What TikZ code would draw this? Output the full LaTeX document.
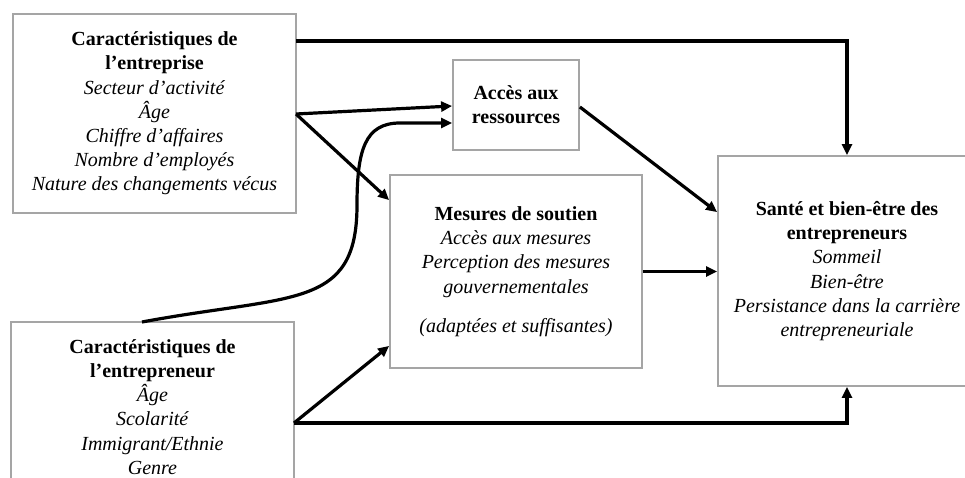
\documentclass[tikz,border=0pt]{standalone}
\usepackage{fontspec}
\setmainfont{Liberation Serif}
\usetikzlibrary{arrows.meta}
\definecolor{boxgray}{RGB}{165,165,165}
\tikzset{
  box/.style={draw=boxgray, line width=1.8pt, rectangle, inner sep=0pt, align=center,
    font=\fontsize{20}{24.2}\selectfont},
  arr/.style={draw=black, line width=3.2pt, -{Triangle[length=11pt,width=10pt]}}
}
\begin{document}
\begin{tikzpicture}[x=1pt,y=-1pt]
\useasboundingbox (0,0) rectangle (965,478);
\node[box, minimum width=283pt, minimum height=199pt] (A) at (154.5,113.5)
  {\textbf{Caractéristiques de}\\ \textbf{l’entreprise}\\ \textit{Secteur d’activité}\\ \textit{Âge}\\ \textit{Chiffre d’affaires}\\ \textit{Nombre d’employés}\\ \textit{Nature des changements vécus}};
\node[box, minimum width=126pt, minimum height=90pt] (B) at (516,105)
  {\textbf{Accès aux}\\ \textbf{ressources}};
\node[box, minimum width=252pt, minimum height=193pt] (C) at (516,271.5)
  {\textbf{Mesures de soutien}\\ \textit{Accès aux mesures}\\ \textit{Perception des mesures}\\ \textit{gouvernementales}\\[15pt] \textit{(adaptées et suffisantes)}};
\node[box, minimum width=258pt, minimum height=230pt] (D) at (847,271)
  {\textbf{Santé et bien-être des}\\ \textbf{entrepreneurs}\\ \textit{Sommeil}\\ \textit{Bien-être}\\ \textit{Persistance dans la carrière}\\ \textit{entrepreneuriale}};
\node[box, minimum width=283pt, minimum height=170pt] (E) at (152.5,407)
  {\textbf{Caractéristiques de}\\ \textbf{l’entrepreneur}\\ \textit{Âge}\\ \textit{Scolarité}\\ \textit{Immigrant/Ethnie}\\ \textit{Genre}};
\coordinate (a1) at (296,41);
\coordinate (a2) at (296,114);
\coordinate (e0) at (142,322);
\coordinate (e1) at (294,423);
\draw[arr] (a1) -| (D.north);
\draw[arr] (a2) -- ([yshift=-1pt]B.west);
\draw[arr] (a2) -- ([yshift=-26pt]C.north west);
\draw[arr] (e0) .. controls (292,294) and (357,310) .. (357,205)
  .. controls (357,150) and (365,123) .. (400,123) -- ([yshift=-18pt]B.west);
\draw[arr] (e1) -- ([yshift=23pt]C.south west);
\draw[arr] (e1) -| (D.south);
\draw[arr] ([yshift=-2pt]B.east) -- ([yshift=-57pt]D.north west);
\draw[arr] (C.east) -- (C.east -| D.west);
\end{tikzpicture}
\end{document}
